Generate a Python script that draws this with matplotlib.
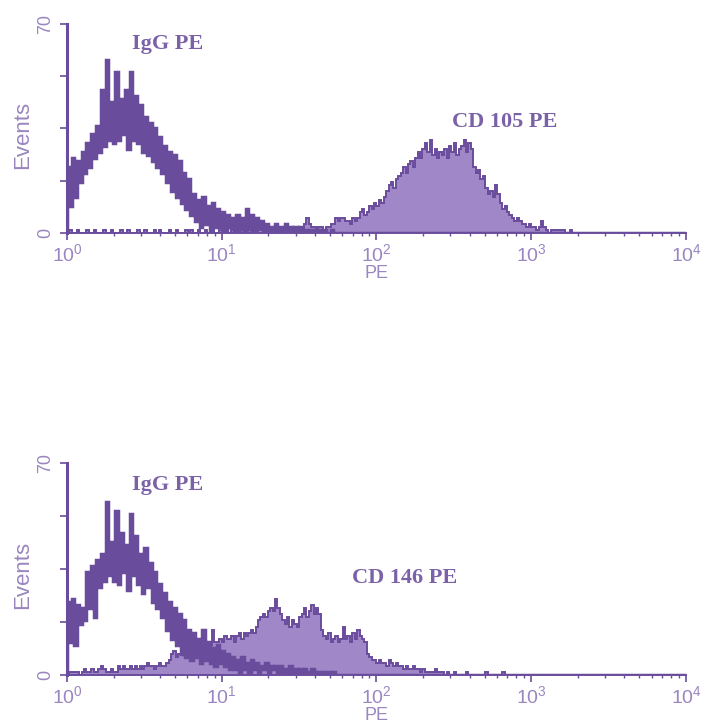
import numpy as np
import matplotlib
matplotlib.use("Agg")
import matplotlib.pyplot as plt
from matplotlib.ticker import FixedLocator, LogLocator, NullFormatter

plt.rcParams['font.family'] = ['Liberation Sans', 'DejaVu Sans']
plt.rcParams['mathtext.fontset'] = 'custom'
plt.rcParams['mathtext.rm'] = 'Liberation Sans'
plt.rcParams['mathtext.it'] = 'Liberation Sans'

# histogram channels: 64 per decade, 10^0 .. 10^4
n_channels = 256
channels_per_decade = 64

# top panel: isotype control (IgG PE) and CD105 PE
igg_top = [
    22, 9, 25, 12, 24, 17, 27, 20, 30, 22,
    33, 25, 36, 27, 48, 29, 58, 31, 44, 30,
    54, 31, 45, 33, 48, 28, 54, 31, 46, 30,
    43, 27, 39, 26, 37, 24, 35, 22, 32, 20,
    29, 17, 27, 14, 26, 12, 24, 10, 20, 8,
    18, 6, 13, 4, 11, 2, 12, 3, 9, 1,
    10, 2, 8, 2, 7, 1, 6, 2, 5, 1,
    6, 2, 5, 1, 8, 2, 6, 1, 5, 2,
    4, 1, 3, 1, 2, 1, 3, 1, 2, 1,
    3, 1, 2, 1, 2, 1, 2, 1, 1, 0,
    1, 1, 0, 1, 1, 0, 1, 0, 0, 1,
]
cd105 = [
    0, 1, 0, 0, 1, 0, 0, 0, 1, 0,
    0, 1, 0, 0, 0, 1, 0, 0, 1, 0,
    0, 0, 1, 0, 0, 1, 0, 0, 0, 1,
    0, 0, 1, 0, 0, 0, 1, 0, 1, 0,
    0, 0, 1, 0, 0, 1, 0, 0, 0, 1,
    0, 1, 0, 0, 1, 0, 0, 1, 0, 0,
    1, 0, 0, 1, 0, 1, 0, 0, 1, 0,
    1, 0, 1, 0, 0, 1, 0, 1, 0, 1,
    1, 0, 1, 1, 0, 1, 1, 0, 1, 1,
    2, 1, 1, 2, 1, 2, 2, 1, 3, 5,
    3, 2, 2, 1, 2, 2, 1, 2, 2, 3,
    3, 5, 4, 5, 5, 4, 4, 3, 5, 4,
    5, 7, 8, 6, 7, 9, 8, 10, 9, 11,
    10, 12, 14, 16, 17, 15, 18, 19, 20, 22,
    20, 23, 24, 22, 25, 27, 25, 28, 30, 27,
    31, 26, 28, 25, 27, 26, 28, 25, 29, 27,
    30, 26, 28, 29, 31, 27, 30, 28, 22, 20,
    21, 18, 19, 15, 13, 14, 12, 16, 13, 10,
    8, 9, 7, 6, 5, 4, 5, 4, 3, 3,
    2, 3, 2, 2, 1, 2, 4, 2, 1, 0,
    1, 1, 1, 1, 1, 1, 0, 0, 1, 0,
]

# bottom panel: isotype control (IgG PE) and CD146 PE
igg_bottom = [
    24, 11, 25, 10, 23, 17, 22, 18, 34, 22,
    36, 19, 38, 29, 40, 31, 57, 33, 44, 31,
    54, 30, 47, 34, 43, 28, 53, 33, 46, 30,
    40, 27, 42, 29, 37, 24, 34, 22, 30, 19,
    27, 15, 24, 12, 22, 10, 20, 7, 18, 6,
    15, 5, 14, 6, 12, 4, 15, 5, 11, 4,
    9, 3, 10, 4, 8, 3, 7, 2, 6, 2,
    5, 1, 6, 2, 4, 1, 5, 2, 4, 1,
    3, 2, 4, 1, 3, 2, 3, 1, 3, 1,
    2, 1, 3, 1, 2, 1, 2, 1, 2, 1,
    1, 2, 1, 0, 1, 1, 0, 1, 1, 0,
    1,
]
cd146 = [
    0, 1, 1, 1, 1, 0, 1, 2, 1, 1,
    2, 1, 1, 2, 3, 2, 1, 1, 2, 1,
    1, 3, 2, 3, 2, 2, 3, 2, 3, 2,
    3, 2, 3, 4, 3, 3, 2, 3, 4, 3,
    3, 4, 5, 7, 8, 6, 7, 8, 7, 6,
    8, 7, 8, 9, 7, 9, 10, 8, 9, 10,
    15, 11, 11, 12, 11, 13, 12, 12, 13, 11,
    13, 14, 12, 14, 13, 14, 15, 14, 16, 18,
    19, 20, 19, 21, 22, 21, 25, 22, 20, 18,
    17, 19, 16, 18, 17, 16, 19, 20, 22, 19,
    21, 23, 20, 22, 20, 15, 13, 12, 14, 11,
    12, 13, 11, 12, 16, 12, 13, 11, 14, 12,
    15, 13, 12, 11, 7, 6, 5, 5, 4, 5,
    4, 4, 3, 5, 4, 3, 4, 3, 3, 2,
    3, 2, 2, 3, 2, 2, 1, 2, 1, 1,
    1, 1, 2, 1, 1, 1, 0, 1, 0, 0,
    1, 0, 0, 0, 0, 1, 0, 0, 0, 0,
    0, 0, 0, 1, 0, 0, 0, 0, 0, 0,
    1, 0, 0, 0, 0, 0, 0, 0, 0, 0,
]

labels_top = ('IgG PE', 'CD 105 PE')
labels_bottom = ('IgG PE', 'CD 146 PE')
decade_labels = [r'$10^{0}$', r'$10^{1}$', r'$10^{2}$', r'$10^{3}$', r'$10^{4}$']

dark = '#6a4c9c'
fill = '#a088c8'
text_col = '#7b62a8'
tick_col = '#9a86c0'


def pad(vals):
    return np.array(vals + [0] * (n_channels - len(vals)), dtype=float)


edges = 10 ** (np.arange(n_channels + 1) / channels_per_decade)

fig = plt.figure(figsize=(7.13, 7.24), dpi=100)
ax1 = fig.add_axes([67 / 713, 1 - 233 / 724, 619 / 713, 209 / 724])
ax2 = fig.add_axes([67 / 713, 1 - 675 / 724, 619 / 713, 212 / 724])


def draw(ax, igg, cd, labels, igg_pos, cd_pos):
    ax.stairs(pad(cd), edges, fill=True, color=fill, lw=0)
    ax.stairs(pad(cd), edges, color=dark, lw=1.4)
    ax.stairs(pad(igg), edges, color=dark, lw=2.5)

    ax.set_xscale('log')
    ax.set_xlim(1, 1e4)
    ax.set_ylim(0, 70)

    for s in ('top', 'right'):
        ax.spines[s].set_visible(False)
    ax.spines['left'].set_linewidth(2.2)
    ax.spines['bottom'].set_linewidth(1.4)
    ax.spines['left'].set_color(dark)
    ax.spines['bottom'].set_color(dark)

    ax.xaxis.set_major_locator(FixedLocator([1, 10, 100, 1000, 10000]))
    ax.set_xticklabels(decade_labels)
    ax.xaxis.set_minor_locator(LogLocator(base=10, subs=np.arange(2, 10), numticks=20))
    ax.xaxis.set_minor_formatter(NullFormatter())
    ax.tick_params(axis='x', which='major', length=5, width=1.2, colors=dark,
                   labelcolor=tick_col, labelsize=14, pad=2)
    ax.tick_params(axis='x', which='minor', length=2.5, width=1.0, colors=dark)

    ax.set_yticks([0, 17.5, 35, 52.5, 70])
    ax.set_yticklabels(['0', '', '', '', '70'], rotation=90, va='center')
    ax.tick_params(axis='y', length=5, width=1.2, colors=dark,
                   labelcolor=tick_col, labelsize=13, pad=4)

    ax.set_ylabel('Events', color=tick_col, fontsize=16)
    ax.yaxis.set_label_coords(-0.055, 0.47)
    ax.set_xlabel('PE', color=tick_col, fontsize=13, labelpad=0)

    ax.text(igg_pos[0], igg_pos[1], labels[0], color=text_col, fontsize=16,
            family='Liberation Serif', fontweight='bold', ha='center', va='center')
    ax.text(cd_pos[0], cd_pos[1], labels[1], color=text_col, fontsize=16,
            family='Liberation Serif', fontweight='bold', ha='center', va='center')


draw(ax1, igg_top, cd105, labels_top, (4.5, 63.3), (676, 37.2))
draw(ax2, igg_bottom, cd146, labels_bottom, (4.5, 62.7), (153, 32))

fig.savefig('out.png', dpi=100)
